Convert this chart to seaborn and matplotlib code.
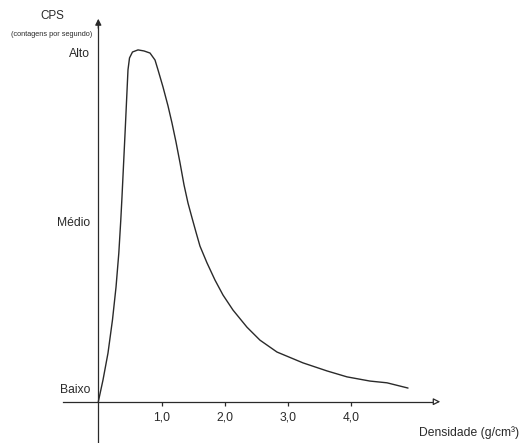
import numpy as np
import pandas as pd
import matplotlib
matplotlib.use('Agg')
import matplotlib.pyplot as plt
import seaborn as sns

# curve (density in g/cm3, CPS normalised: Alto = 1)
densidade = [0.0, 0.074, 0.153, 0.224, 0.280, 0.324, 0.355, 0.374, 0.400, 0.425,
             0.449, 0.469, 0.493, 0.540, 0.627, 0.722, 0.817, 0.896, 0.943, 1.022,
             1.101, 1.164, 1.227, 1.291, 1.354, 1.417, 1.480, 1.543, 1.606, 1.717,
             1.843, 1.970, 2.128, 2.349, 2.554, 2.823, 3.234, 3.613, 3.929, 4.292,
             4.561, 4.893]
cps = [0.0, 0.062, 0.139, 0.234, 0.328, 0.425, 0.519, 0.585, 0.683, 0.777,
       0.871, 0.949, 0.983, 1.000, 1.006, 1.003, 0.997, 0.977, 0.949, 0.900,
       0.846, 0.797, 0.743, 0.683, 0.620, 0.568, 0.526, 0.485, 0.445, 0.397,
       0.348, 0.305, 0.262, 0.213, 0.176, 0.142, 0.111, 0.088, 0.071, 0.059,
       0.054, 0.039]

x_ticks = [1.0, 2.0, 3.0, 4.0]
x_labels = ['1,0', '2,0', '3,0', '4,0']
y_levels = [1.0, 0.514, 0.039]
y_labels = ['Alto', 'Médio', 'Baixo']

sns.set_style('white')
plt.rcParams['font.family'] = ['Liberation Sans', 'DejaVu Sans']

INK = '#2a2a2a'

fig = plt.figure(figsize=(5.2, 4.43), dpi=100)
ax = fig.add_axes([0, 0, 1, 1])

df = pd.DataFrame({'densidade': densidade, 'cps': cps})
sns.lineplot(data=df, x='densidade', y='cps', sort=False, color=INK, lw=1.0, ax=ax)

ax.set_xlim(-1.553, 6.662)
ax.set_ylim(-0.1181, 1.1487)

# axes through the origin
for s in ['top', 'right']:
    ax.spines[s].set_visible(False)
ax.spines['left'].set_position(('data', 0))
ax.spines['bottom'].set_position(('data', 0))
ax.spines['left'].set_bounds(-0.1181, 1.08)
ax.spines['bottom'].set_bounds(-0.56, 5.3)
for s in ['left', 'bottom']:
    ax.spines[s].set_color(INK)
    ax.spines[s].set_linewidth(0.9)

ax.annotate('', xy=(0, 1.103), xytext=(0, 1.06),
            arrowprops=dict(arrowstyle='-|>', color=INK, lw=0.9, mutation_scale=9))
ax.annotate('', xy=(5.446, 0), xytext=(5.28, 0),
            arrowprops=dict(arrowstyle='-|>', color=INK, fc='white', lw=0.9, mutation_scale=10))

ax.set_xticks(x_ticks)
ax.set_xticklabels(x_labels)
ax.set_yticks(y_levels)
ax.set_yticklabels(y_labels)
ax.tick_params(axis='x', direction='out', length=3, width=0.9, color=INK,
               labelsize=8.7, labelcolor=INK, pad=4, bottom=True)
ax.tick_params(axis='y', length=0, labelsize=8.7, labelcolor=INK, pad=6, left=True)
ax.set_xlabel('')
ax.set_ylabel('')

ax.text(-0.731, 1.103, 'CPS', ha='center', va='center', fontsize=8.4, color=INK)
ax.text(-0.731, 1.051, '(contagens por segundo)', ha='center', va='center',
        fontsize=5.3, color=INK)
ax.text(5.857, -0.087, 'Densidade (g/cm³)', ha='center', va='center',
        fontsize=8.7, color=INK)

fig.savefig('out.png', dpi=100, facecolor='white')
